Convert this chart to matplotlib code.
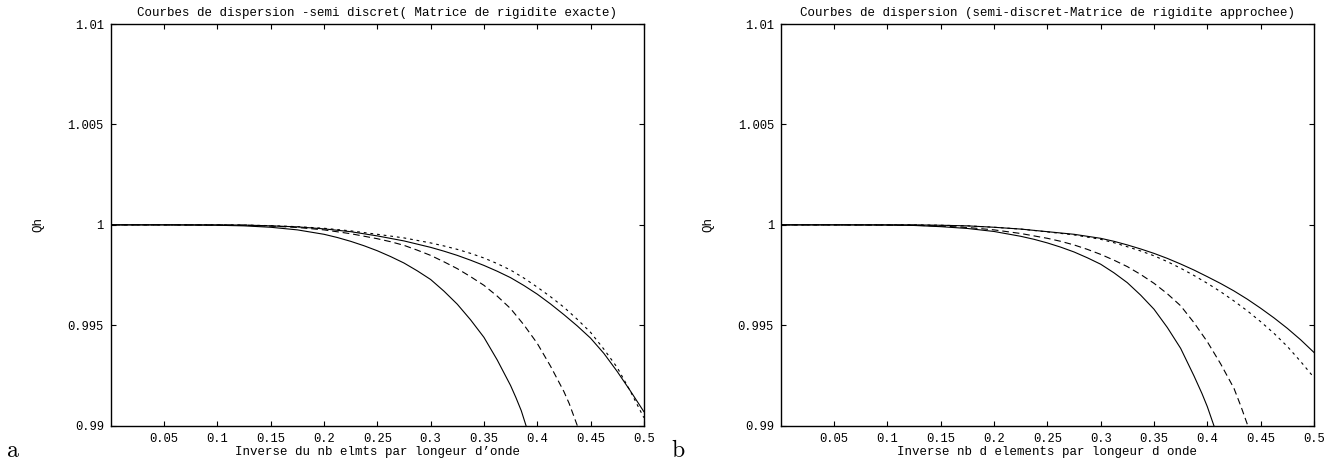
"""
Courbes de dispersion (semi-discret), deux panneaux a / b.
"""

import matplotlib
matplotlib.use("Agg")
import matplotlib.pyplot as plt

plt.rcParams.update({'font.family': 'Liberation Mono', 'font.size': 9})

# abscisses (inverse du nb d'elements par longueur d'onde)
x_fine = [0, 0.05, 0.1, 0.125, 0.15, 0.175, 0.2, 0.225, 0.25, 0.275, 0.3,
          0.3125, 0.325, 0.3375, 0.35, 0.3625, 0.375, 0.3875, 0.4, 0.4125,
          0.425, 0.4375, 0.45, 0.4625, 0.475, 0.4875, 0.5]

# --- panneau a : matrice de rigidite exacte ---
xa_solid1 = [0, 0.05, 0.1, 0.125, 0.15, 0.175, 0.2, 0.2125, 0.225, 0.2375, 0.25,
             0.2625, 0.275, 0.2875, 0.3, 0.3125, 0.325, 0.3375, 0.35, 0.3625,
             0.375, 0.38, 0.385, 0.3895]
ya_solid1 = [1, 1, 0.99998, 0.99995, 0.99988, 0.99975, 0.99953, 0.99937, 0.99918,
             0.99896, 0.99871, 0.99842, 0.99810, 0.99771, 0.99728, 0.99670, 0.99605,
             0.99527, 0.99440, 0.99327, 0.99200, 0.99140, 0.99075, 0.99]
xa_dash = [0, 0.05, 0.1, 0.125, 0.15, 0.175, 0.2, 0.225, 0.25, 0.2625, 0.275,
           0.2875, 0.3, 0.3125, 0.325, 0.3375, 0.35, 0.3625, 0.375, 0.3875, 0.4,
           0.4125, 0.425, 0.43, 0.4376]
ya_dash = [1, 1, 0.99999, 0.99998, 0.99994, 0.99987, 0.99975, 0.99956, 0.99931,
           0.99916, 0.99898, 0.99874, 0.99848, 0.99816, 0.99782, 0.99742, 0.99699,
           0.99645, 0.99583, 0.99502, 0.99410, 0.99296, 0.99170, 0.99110, 0.99]
ya_solid2 = [1, 1, 1, 0.99999, 0.99995, 0.99990, 0.99980, 0.99966, 0.99945, 0.99920,
             0.99888, 0.99869, 0.99848, 0.99824, 0.99798, 0.99769, 0.99737, 0.99698,
             0.99655, 0.99606, 0.99553, 0.99497, 0.99436, 0.99360, 0.99270, 0.99172,
             0.99070]
ya_dot = [1, 1, 1, 0.99999, 0.99996, 0.99991, 0.99983, 0.99970, 0.99953, 0.99935,
          0.99910, 0.99895, 0.99878, 0.99858, 0.99835, 0.99807, 0.99775, 0.99735,
          0.99690, 0.99642, 0.99590, 0.99530, 0.99465, 0.99381, 0.99290, 0.99170,
          0.99040]

# --- panneau b : matrice de rigidite approchee ---
xb_solid1 = [0, 0.05, 0.1, 0.125, 0.15, 0.175, 0.2, 0.225, 0.2375, 0.25, 0.2625,
             0.275, 0.2875, 0.3, 0.3125, 0.325, 0.3375, 0.35, 0.3625, 0.375, 0.3875,
             0.395, 0.4, 0.4062]
yb_solid1 = [1, 1, 0.99999, 0.99997, 0.99991, 0.99982, 0.99967, 0.99943, 0.99928,
             0.99910, 0.99889, 0.99865, 0.99836, 0.99804, 0.99761, 0.99712, 0.99650,
             0.99580, 0.99489, 0.99385, 0.99248, 0.99160, 0.99095, 0.99]
xb_dash = [0, 0.05, 0.1, 0.125, 0.15, 0.175, 0.2, 0.225, 0.25, 0.2625, 0.275,
           0.2875, 0.3, 0.3125, 0.325, 0.3375, 0.35, 0.3625, 0.375, 0.3875, 0.4,
           0.4125, 0.425, 0.4315, 0.438]
yb_dash = [1, 1, 0.99999, 0.99998, 0.99994, 0.99987, 0.99975, 0.99957, 0.99933,
           0.99918, 0.99900, 0.99878, 0.99853, 0.99824, 0.99792, 0.99753, 0.99709,
           0.99657, 0.99597, 0.99513, 0.99418, 0.99308, 0.99186, 0.99097, 0.99]
yb_solid2 = [1, 1, 1, 1, 0.99998, 0.99995, 0.99988, 0.99979, 0.99966, 0.99953,
             0.99933, 0.99918, 0.99900, 0.99880, 0.99858, 0.99833, 0.99805, 0.99775,
             0.99742, 0.99708, 0.99671, 0.99630, 0.99585, 0.99537, 0.99485, 0.99428,
             0.99365]
yb_dot = [1, 1, 1, 1, 0.99998, 0.99995, 0.99988, 0.99979, 0.99965, 0.99950,
          0.99928, 0.99911, 0.99891, 0.99870, 0.99846, 0.99817, 0.99784, 0.99748,
          0.99709, 0.99667, 0.99621, 0.99572, 0.99518, 0.99460, 0.99395, 0.99320,
          0.99240]

x_ticks = [0.05, 0.1, 0.15, 0.2, 0.25, 0.3, 0.35, 0.4, 0.45, 0.5]
x_ticklabels = ['0.05', '0.1', '0.15', '0.2', '0.25', '0.3', '0.35', '0.4', '0.45', '0.5']
y_ticks = [0.99, 0.995, 1.0, 1.005, 1.01]
y_ticklabels = ['0.99', '0.995', '1', '1.005', '1.01']

titles = ['Courbes de dispersion -semi discret( Matrice de rigidite exacte)',
          'Courbes de dispersion (semi-discret-Matrice de rigidite approchee)']
xlabels = ['Inverse du nb elmts par longeur d\u2019onde',
           'Inverse nb d elements par longeur d onde']

fig = plt.figure(figsize=(13.38, 4.62), dpi=100)
ax_a = fig.add_axes([0.0828, 0.0786, 0.3984, 0.8694])
ax_b = fig.add_axes([0.5836, 0.0786, 0.3984, 0.8694])

lw = 0.8
dash_long = (6, 3.5)
dash_short = (2.5, 3.5)

# courbes panneau a
ax_a.plot(xa_solid1, ya_solid1, color='black', lw=lw)
ax_a.plot(xa_dash, ya_dash, color='black', lw=lw, dashes=dash_long)
ax_a.plot(x_fine, ya_solid2, color='black', lw=lw)
ax_a.plot(x_fine, ya_dot, color='black', lw=lw, dashes=dash_short)

# courbes panneau b
ax_b.plot(xb_solid1, yb_solid1, color='black', lw=lw)
ax_b.plot(xb_dash, yb_dash, color='black', lw=lw, dashes=dash_long)
ax_b.plot(x_fine, yb_solid2, color='black', lw=lw)
ax_b.plot(x_fine, yb_dot, color='black', lw=lw, dashes=dash_short)

for ax, title, xlabel in zip([ax_a, ax_b], titles, xlabels):
    ax.set_xlim(0, 0.5)
    ax.set_ylim(0.99, 1.01)
    ax.set_xticks(x_ticks)
    ax.set_xticklabels(x_ticklabels)
    ax.set_yticks(y_ticks)
    ax.set_yticklabels(y_ticklabels)
    ax.tick_params(direction='in', top=True, right=True, length=3.6, width=0.8,
                   labelsize=8.7, pad=5)
    for s in ax.spines.values():
        s.set_linewidth(1.0)
    ax.set_title(title, fontsize=9, pad=6)
    ax.set_xlabel(xlabel, fontsize=9, labelpad=1)
    ax.set_ylabel('Qh', fontsize=9)
    ax.yaxis.set_label_coords(-0.125, 0.5)

# lettres des panneaux
fig.text(0.005, 0.01, 'a', family='cmr10', fontsize=17)
fig.text(0.502, 0.01, 'b', family='cmr10', fontsize=17)

fig.savefig('out.png', dpi=100)
